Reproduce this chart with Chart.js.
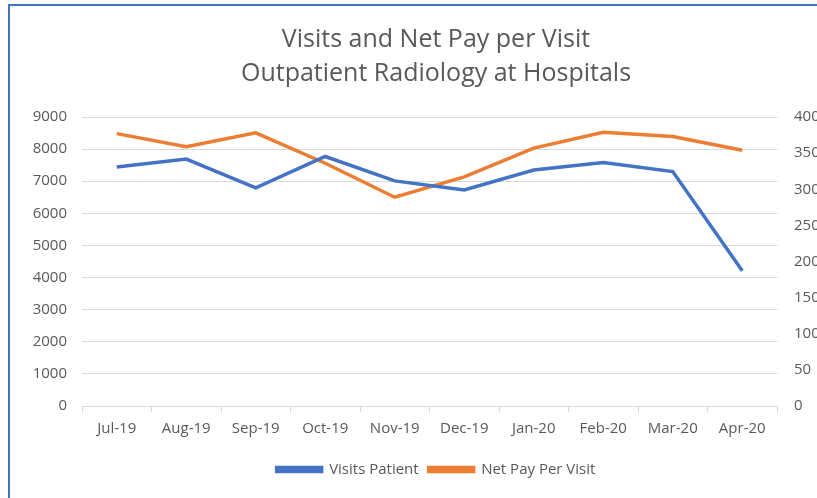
<!DOCTYPE html>
<html>
<head>
<meta charset="utf-8">
<script src="https://cdn.jsdelivr.net/npm/chart.js@4"></script>
<style>
  html, body { margin: 0; padding: 0; background: #fff; overflow: hidden; }
  #frame {
    position: absolute; left: 8px; top: 4px; width: 900px; height: 600px;
    border-left: 2px solid #4472C4; border-top: 2px solid #4472C4;
  }
  #wrap { position: absolute; left: 0; top: 0; width: 872px; height: 498px; }
</style>
</head>
<body>
<div id="frame"></div>
<div id="wrap"><canvas id="myChart" width="872" height="498"></canvas></div>
<script>
const months = ['Jul-19', 'Aug-19', 'Sep-19', 'Oct-19', 'Nov-19', 'Dec-19', 'Jan-20', 'Feb-20', 'Mar-20', 'Apr-20'];
const visitsPatient = [7440, 7690, 6790, 7770, 7010, 6730, 7350, 7580, 7300, 4210];
const netPayPerVisit = [377, 359, 378, 336, 289, 317, 357, 379, 373, 354];
const titleLines = ['Visits and Net Pay per Visit', 'Outpatient Radiology at Hospitals'];

const FONT = "'Open Sans', 'Noto Sans', sans-serif";
const GREY = '#595959';

// the canvas runs past the right edge of the window, like the cropped original
const chart = new Chart(document.getElementById('myChart').getContext('2d'), {
  type: 'line',
  data: {
    labels: months,
    datasets: [
      {
        label: 'Visits Patient',
        data: visitsPatient,
        borderColor: '#4472C4',
        backgroundColor: '#4472C4',
        borderWidth: 3.5,
        pointRadius: 0,
        tension: 0,
        yAxisID: 'y',
      },
      {
        label: 'Net Pay Per Visit',
        data: netPayPerVisit,
        borderColor: '#ED7D31',
        backgroundColor: '#ED7D31',
        borderWidth: 3.5,
        pointRadius: 0,
        tension: 0,
        yAxisID: 'y1',
      },
    ],
  },
  options: {
    responsive: false,
    animation: false,
    layout: { padding: { left: 0, right: 0, top: 23, bottom: 11 } },
    plugins: {
      title: {
        display: true,
        text: titleLines,
        color: GREY,
        font: { family: FONT, size: 25, weight: 'normal', lineHeight: 1.36 },
        padding: { top: 0, bottom: 26 },
      },
      legend: {
        position: 'bottom',
        labels: {
          color: GREY,
          font: { family: FONT, size: 15 },
          boxWidth: 45,
          boxHeight: 4,
          padding: 10,
        },
      },
      tooltip: { enabled: false },
    },
    scales: {
      x: {
        offset: true,
        grid: {
          offset: true,
          drawOnChartArea: false,
          drawTicks: true,
          tickLength: 6,
          color: '#D9D9D9',
        },
        border: { color: '#D9D9D9' },
        ticks: { color: GREY, font: { family: FONT, size: 15 }, padding: 8, maxRotation: 0 },
        afterFit: (s) => { s.height = 46; },
      },
      y: {
        position: 'left',
        min: 0,
        max: 9000,
        grid: { color: '#D9D9D9', drawTicks: false },
        border: { display: false },
        ticks: {
          stepSize: 1000, color: GREY, font: { family: FONT, size: 15 }, padding: 15,
          callback: (v) => String(v),
        },
        afterFit: (s) => { s.width = 82; },
      },
      y1: {
        position: 'right',
        min: 0,
        max: 400,
        grid: { drawOnChartArea: false, drawTicks: false },
        border: { display: false },
        ticks: {
          stepSize: 50, color: GREY, font: { family: FONT, size: 15 }, padding: 17,
          callback: (v) => String(v),
        },
        afterFit: (s) => { s.width = 95; },
      },
    },
  },
});
</script>
</body>
</html>
